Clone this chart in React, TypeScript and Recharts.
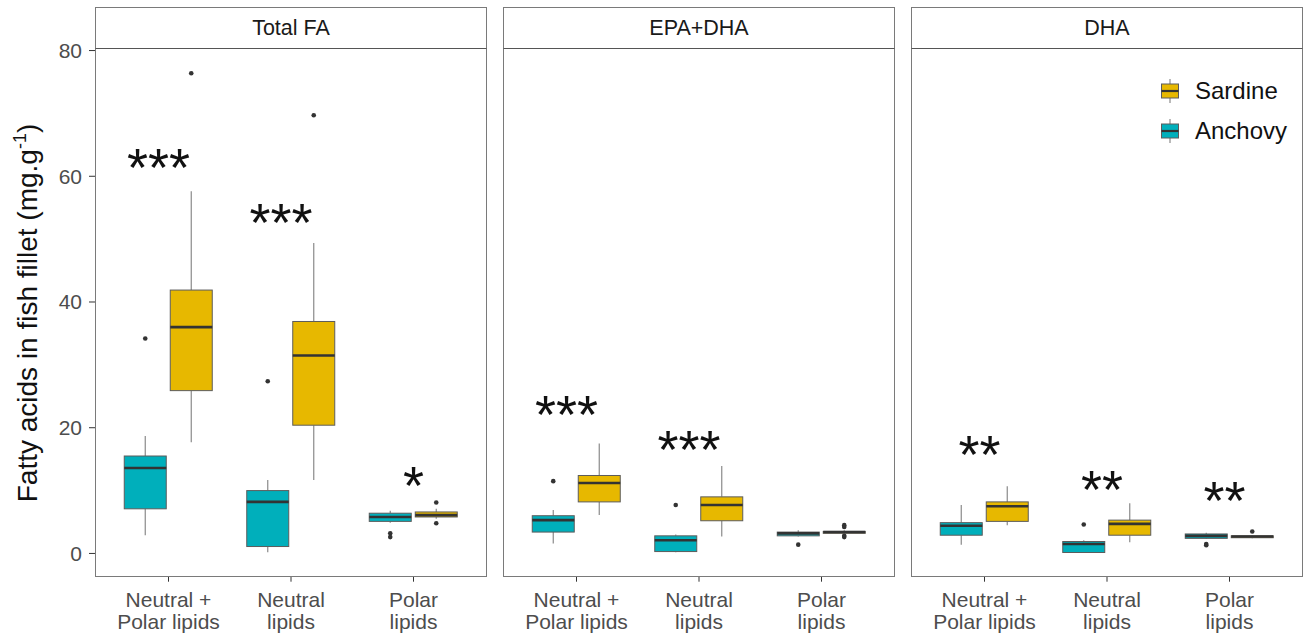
import React from "react";
import {
  ComposedChart,
  Bar,
  XAxis,
  YAxis,
  ReferenceDot,
  Legend,
} from "recharts";

// facet titles and x categories
const panelTitles = ["Total FA", "EPA+DHA", "DHA"];
const categories = ["Neutral +\nPolar lipids", "Neutral\nlipids", "Polar\nlipids"];
const yTicks = [0, 20, 40, 60, 80];

// box stats per category: [lower whisker, q1, median, q3, upper whisker]
const totalAnchovy = [
  [2.9, 7.1, 13.6, 15.5, 18.7],
  [0.2, 1.1, 8.2, 10.0, 11.7],
  [4.9, 5.1, 5.8, 6.4, 6.8],
];
const totalAnchovyOut = [[34.2], [27.4], [3.2, 2.6]];
const totalSardine = [
  [17.7, 25.9, 36.0, 41.9, 57.6],
  [11.7, 20.4, 31.5, 36.9, 49.4],
  [5.5, 5.8, 6.1, 6.6, 7.1],
];
const totalSardineOut = [[76.4], [69.7], [8.1, 4.8]];

const epaAnchovy = [
  [1.6, 3.4, 5.3, 6.0, 6.9],
  [0.2, 0.3, 2.1, 2.8, 3.0],
  [2.7, 2.8, 3.2, 3.4, 3.7],
];
const epaAnchovyOut = [[11.5], [7.7], [1.4]];
const epaSardine = [
  [6.1, 8.2, 11.2, 12.4, 17.5],
  [2.7, 5.2, 7.7, 9.0, 13.9],
  [3.0, 3.2, 3.4, 3.5, 3.7],
];
const epaSardineOut = [[], [], [4.5, 4.2, 2.8, 2.6]];

const dhaAnchovy = [
  [1.4, 2.9, 4.4, 4.9, 7.7],
  [0.1, 0.15, 1.5, 1.9, 2.1],
  [2.3, 2.4, 2.8, 3.1, 3.3],
];
const dhaAnchovyOut = [[], [4.6], [1.5, 1.3]];
const dhaSardine = [
  [4.5, 5.1, 7.5, 8.2, 10.7],
  [1.8, 2.9, 4.7, 5.3, 8.0],
  [2.4, 2.5, 2.7, 2.8, 2.9],
];
const dhaSardineOut = [[], [], [3.5]];

// significance marks
const totalSig = ["***", "***", "*"];
const totalSigY = [62.6, 53.9, 12.1];
const epaSig = ["***", "***", ""];
const epaSigY = [23.4, 17.8, 0];
const dhaSig = ["**", "**", "**"];
const dhaSigY = [17.0, 11.4, 9.7];

const ANCHOVY = "#00AFBB";
const SARDINE = "#E7B800";
const FONT = "'Liberation Sans', Arial, sans-serif";
const BORDER = "#7a7a7a";

const buildRows = (anch, anchOut, sard, sardOut) =>
  categories.map((cat, i) => ({
    cat,
    anch: anch[i],
    anchOut: anchOut[i],
    sard: sard[i],
    sardOut: sardOut[i],
  }));

const panels = [
  { title: panelTitles[0], rows: buildRows(totalAnchovy, totalAnchovyOut, totalSardine, totalSardineOut), sig: totalSig, sigY: totalSigY },
  { title: panelTitles[1], rows: buildRows(epaAnchovy, epaAnchovyOut, epaSardine, epaSardineOut), sig: epaSig, sigY: epaSigY },
  { title: panelTitles[2], rows: buildRows(dhaAnchovy, dhaAnchovyOut, dhaSardine, dhaSardineOut), sig: dhaSig, sigY: dhaSigY },
];

const boxShape = (statKey: string, outKey: string) => (props: any) => {
  const { x, y, width, height, payload, fill } = props;
  const s = payload[statKey];
  const top = Math.min(y, y + height);
  const bot = Math.max(y, y + height);
  const ppu = (bot - top) / (s[3] - s[1]);
  const py = (v: number) => bot - (v - s[1]) * ppu;
  const cx = x + width / 2;
  return (
    <g>
      <line x1={cx} x2={cx} y1={py(s[4])} y2={top} stroke="#8a8a8a" strokeWidth={1.2} />
      <line x1={cx} x2={cx} y1={bot} y2={py(s[0])} stroke="#8a8a8a" strokeWidth={1.2} />
      <rect x={x} y={top} width={width} height={bot - top} fill={fill} stroke="#5c5c5c" strokeWidth={1} />
      <line x1={x} x2={x + width} y1={py(s[2])} y2={py(s[2])} stroke="#333333" strokeWidth={2.6} />
      {payload[outKey].map((v: number, i: number) => (
        <circle key={i} cx={cx} cy={py(v)} r={2.3} fill="#333333" />
      ))}
    </g>
  );
};

const CategoryTick = ({ x, y, payload }: any) => {
  const lines = String(payload.value).split("\n");
  return (
    <text x={x} y={y} textAnchor="middle" fill="#4d4d4d" fontSize={21} fontFamily={FONT}>
      {lines.map((l, i) => (
        <tspan key={i} x={x} y={y + 23 + i * 22.5}>
          {l}
        </tspan>
      ))}
    </text>
  );
};

const YTitle = ({ viewBox }: any) => {
  const cx = viewBox.x + 37;
  const cy = viewBox.y + viewBox.height / 2;
  return (
    <text
      x={cx}
      y={cy}
      transform={`rotate(-90 ${cx} ${cy})`}
      textAnchor="middle"
      fontSize={28}
      fill="#111"
      fontFamily={FONT}
    >
      Fatty acids in fish fillet (mg.g
      <tspan dy={-11} fontSize={18}>-1</tspan>
      <tspan dy={11}>)</tspan>
    </text>
  );
};

const LegendIcon = ({ color }: { color: string }) => (
  <svg width={22} height={26}>
    <line x1={11} x2={11} y1={1} y2={25} stroke="#8a8a8a" strokeWidth={1.2} />
    <rect x={2.5} y={6} width={17} height={14} fill={color} stroke="#5c5c5c" />
    <line x1={2.5} x2={19.5} y1={13} y2={13} stroke="#333" strokeWidth={2.2} />
  </svg>
);

const LegendContent = ({ payload }: any) => {
  const items = [...(payload || [])].reverse();
  return (
    <div style={{ fontFamily: FONT }}>
      {items.map((it: any) => (
        <div key={it.value} style={{ display: "flex", alignItems: "center", height: 40 }}>
          <LegendIcon color={it.color} />
          <span style={{ marginLeft: 14, fontSize: 24, color: "#111" }}>{it.value}</span>
        </div>
      ))}
    </div>
  );
};

const PANEL_LEFT = [95, 503, 911];
const PANEL_W = 392;
const PLOT_TOP = 49.3;
const PLOT_BOTTOM = 576.7;
const H = 639;

function FacetPanel({ index }: { index: number }) {
  const p = panels[index];
  const first = index === 0;
  const left = PANEL_LEFT[index];
  const chartLeft = first ? 0 : left;
  const chartW = first ? left + PANEL_W : PANEL_W;
  return (
    <>
      <div style={{ position: "absolute", left: chartLeft, top: 0 }}>
        <ComposedChart
          width={chartW}
          height={H}
          data={p.rows}
          margin={{ top: PLOT_TOP, right: 0, bottom: 0, left: 0 }}
          barGap={4}
        >
          <XAxis
            dataKey="cat"
            type="category"
            interval={0}
            height={H - PLOT_BOTTOM}
            padding={{ left: 12.25, right: 12.25 }}
            axisLine={false}
            tickLine={{ stroke: "#333" }}
            tickSize={5}
            tick={<CategoryTick />}
          />
          <YAxis
            hide={!first}
            type="number"
            domain={[-3.7, 80.2]}
            allowDataOverflow
            ticks={yTicks}
            width={left}
            axisLine={false}
            tickLine={{ stroke: "#333" }}
            tickSize={6}
            tickMargin={7}
            tick={{ fill: "#4d4d4d", fontSize: 21, fontFamily: FONT }}
            label={first ? <YTitle /> : undefined}
          />
          <Bar
            dataKey={(d: any) => [d.anch[1], d.anch[3]]}
            name="Anchovy"
            fill={ANCHOVY}
            barSize={42}
            isAnimationActive={false}
            shape={boxShape("anch", "anchOut")}
          />
          <Bar
            dataKey={(d: any) => [d.sard[1], d.sard[3]]}
            name="Sardine"
            fill={SARDINE}
            barSize={42}
            isAnimationActive={false}
            shape={boxShape("sard", "sardOut")}
          />
          {p.sig.map((txt, i) =>
            txt ? (
              <ReferenceDot
                key={i}
                x={categories[i]}
                y={p.sigY[i]}
                r={0}
                fill="none"
                stroke="none"
                label={{
                  content: ({ viewBox }: any) => {
                    const cx = viewBox.x + (viewBox.width || 0) / 2;
                    const cy = viewBox.y + (viewBox.height || 0) / 2;
                    return (
                      <text
                        x={cx - (txt.length - 1) * 5}
                        y={cy + 0.49 * 54}
                        textAnchor="middle"
                        fontSize={54}
                        fill="#111"
                        fontFamily={FONT}
                      >
                        {txt}
                      </text>
                    );
                  },
                }}
              />
            ) : null
          )}
          {index === 2 ? (
            <Legend
              layout="vertical"
              align="center"
              verticalAlign="middle"
              content={<LegendContent />}
              wrapperStyle={{ position: "absolute", top: 71, left: 248, width: "auto", height: "auto" }}
            />
          ) : null}
        </ComposedChart>
      </div>
      <div
        style={{
          position: "absolute",
          left,
          top: 7.3,
          width: PANEL_W,
          height: PLOT_TOP - 7.3,
          boxSizing: "border-box",
          border: `1px solid ${BORDER}`,
          borderBottom: "1.5px solid #555",
          display: "flex",
          alignItems: "center",
          justifyContent: "center",
          fontFamily: FONT,
          fontSize: 21.5,
          color: "#1a1a1a",
        }}
      >
        {p.title}
      </div>
      <div
        style={{
          position: "absolute",
          left,
          top: PLOT_TOP - 0.5,
          width: PANEL_W,
          height: PLOT_BOTTOM - PLOT_TOP + 0.5,
          boxSizing: "border-box",
          border: `1px solid ${BORDER}`,
          borderTop: "none",
          pointerEvents: "none",
        }}
      />
    </>
  );
}

export default function App() {
  return (
    <div
      style={{
        position: "absolute",
        left: 0,
        top: 0,
        width: 1309,
        height: 639,
        background: "#fff",
        fontFamily: FONT,
      }}
    >
      {[0, 1, 2].map((i) => (
        <FacetPanel key={i} index={i} />
      ))}
    </div>
  );
}
